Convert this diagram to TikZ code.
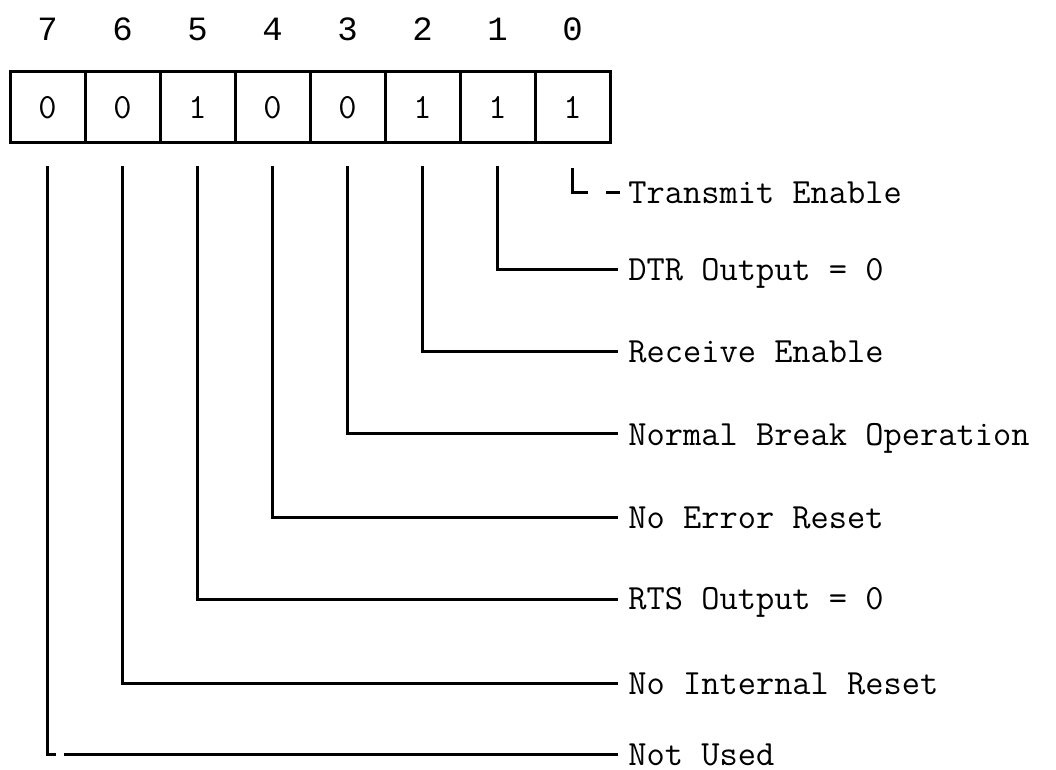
\documentclass[tikz,border=0pt]{standalone}
\usepackage{fontspec}
\newfontfamily\bitfont{Liberation Mono}
\usepackage{tikz}

\tikzset{
  regcell/.style={draw,line width=1.5pt,minimum width=37.5pt,minimum height=35.5pt,inner sep=0pt,
    font=\ttfamily\fontsize{17.7pt}{20pt}\selectfont},
  bitnum/.style={inner sep=0pt,font=\bitfont\fontsize{17pt}{20pt}\selectfont},
  bitlabel/.style={anchor=west,inner sep=0pt,text height=12pt,text depth=1pt,
    font=\ttfamily\fontsize{17.7pt}{20pt}\selectfont},
  leader/.style={line width=1.5pt}
}

\begin{document}
\begin{tikzpicture}[x=0.5pt,y=-0.5pt]
\path[use as bounding box] (0,0) rectangle (1056,770);
\node[bitnum] (n7) at (47.5,29) {7};
\node[bitnum] (n6) at (122.5,29) {6};
\node[bitnum] (n5) at (197.5,29) {5};
\node[bitnum] (n4) at (272.5,29) {4};
\node[bitnum] (n3) at (347.5,29) {3};
\node[bitnum] (n2) at (422.5,29) {2};
\node[bitnum] (n1) at (497.5,29) {1};
\node[bitnum] (n0) at (572.5,29) {0};
\node[regcell] (c7) at (47.5,107.5) {0};
\node[regcell] (c6) at (122.5,107.5) {0};
\node[regcell] (c5) at (197.5,107.5) {1};
\node[regcell] (c4) at (272.5,107.5) {0};
\node[regcell] (c3) at (347.5,107.5) {0};
\node[regcell] (c2) at (422.5,107.5) {1};
\node[regcell] (c1) at (497.5,107.5) {1};
\node[regcell] (c0) at (572.5,107.5) {1};
\node[bitlabel] (t0) at (628,193) {Transmit Enable};
\node[bitlabel] (t1) at (628,270) {DTR Output = 0};
\node[bitlabel] (t2) at (628,352) {Receive Enable};
\node[bitlabel] (t3) at (628,434) {Normal Break Operation};
\node[bitlabel] (t4) at (628,517) {No Error Reset};
\node[bitlabel] (t5) at (628,599) {RTS Output = 0};
\node[bitlabel] (t6) at (628,683) {No Internal Reset};
\node[bitlabel] (t7) at (628,754) {Not Used};
\coordinate (gap7) at (56,754);
\draw[leader] ([yshift=-12pt]c0.south) |- ([xshift=-20pt]t0.west);
\draw[leader] ([xshift=-11pt]t0.west) -- ([xshift=-4pt]t0.west);
\draw[leader] ([yshift=-11pt]c1.south) |- ([xshift=-5pt]t1.west);
\draw[leader] ([yshift=-11pt]c2.south) |- ([xshift=-5pt]t2.west);
\draw[leader] ([yshift=-11pt]c3.south) |- ([xshift=-5pt]t3.west);
\draw[leader] ([yshift=-11pt]c4.south) |- ([xshift=-5pt]t4.west);
\draw[leader] ([yshift=-11pt]c5.south) |- ([xshift=-5pt]t5.west);
\draw[leader] ([yshift=-11pt]c6.south) |- ([xshift=-5pt]t6.west);
\draw[leader] ([yshift=-11pt]c7.south) |- (gap7);
\draw[leader] ([xshift=4pt]gap7) -- ([xshift=-5pt]t7.west);
\end{tikzpicture}
\end{document}
